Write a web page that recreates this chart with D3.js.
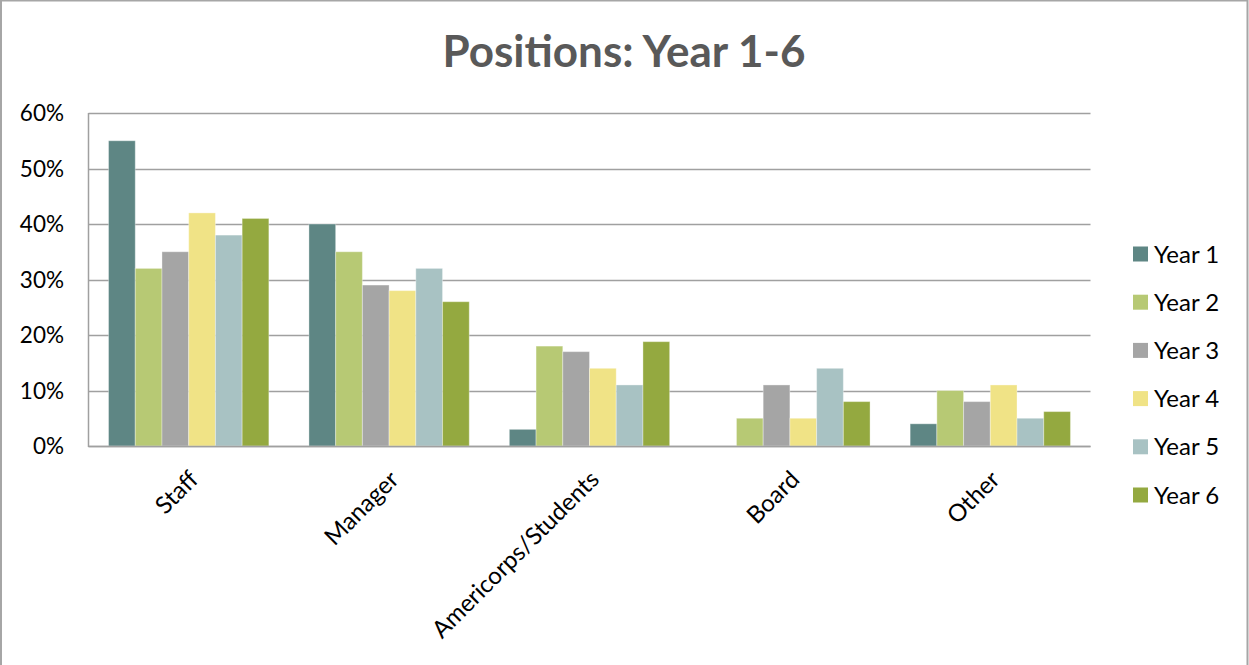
<!DOCTYPE html>
<html>
<head>
<meta charset="utf-8">
<script src="https://cdn.jsdelivr.net/npm/d3@7"></script>
<style>
  html, body { margin: 0; padding: 0; background: #fff; }
  svg { display: block; }
  text { font-family: Lato, "Open Sans", "Noto Sans", sans-serif; }
</style>
</head>
<body>
<svg id="chart" width="1249" height="665"></svg>
<script>
// Category labels along the x axis
const categories = ["Staff", "Manager", "Americorps/Students", "Board", "Other"];
// One series per year, share of respondents in each position (%)
const seriesNames = ["Year 1", "Year 2", "Year 3", "Year 4", "Year 5", "Year 6"];
const year1 = [55, 40, 3, 0, 4];
const year2 = [32, 35, 18, 5, 10];
const year3 = [35, 29, 17, 11, 8];
const year4 = [42, 28, 14, 5, 11];
const year5 = [38, 32, 11, 14, 5];
const year6 = [41, 26, 18.8, 8, 6.2];
const seriesValues = [year1, year2, year3, year4, year5, year6];
const seriesColors = ["#5e8684", "#b7c974", "#a5a5a5", "#f0e386", "#a8c2c3", "#94a940"];
const yTicks = [0, 10, 20, 30, 40, 50, 60];
const title = "Positions: Year 1-6";

const svg = d3.select("#chart");
const W = 1249, H = 665;

// Outer frame (left, top, right edges)
svg.append("path")
  .attr("d", `M1,${H} V0.5 H1247.5 V${H}`)
  .attr("fill", "none")
  .attr("stroke", "#a6a6a6")
  .attr("stroke-width", 2);

const plot = { left: 88.5, right: 1090.5, top: 113, bottom: 446 };

const x0 = d3.scaleBand()
  .domain(categories)
  .range([plot.left, plot.right])
  .paddingInner(0.2)
  .paddingOuter(0.1);

const x1 = d3.scaleBand()
  .domain(seriesNames)
  .range([0, x0.bandwidth()]);

const y = d3.scaleLinear().domain([0, 60]).range([plot.bottom, plot.top]);

// Horizontal gridlines
svg.append("g")
  .selectAll("line")
  .data(yTicks)
  .join("line")
  .attr("x1", plot.left)
  .attr("x2", plot.right)
  .attr("y1", d => Math.round(y(d)) + 0.5)
  .attr("y2", d => Math.round(y(d)) + 0.5)
  .attr("stroke", "#a0a0a0")
  .attr("stroke-width", 1.5);

// Left axis line
svg.append("line")
  .attr("x1", plot.left).attr("x2", plot.left)
  .attr("y1", plot.top).attr("y2", plot.bottom + 1)
  .attr("stroke", "#a0a0a0")
  .attr("stroke-width", 1.5);

// Y tick labels
svg.append("g")
  .selectAll("text")
  .data(yTicks)
  .join("text")
  .attr("x", 64)
  .attr("y", d => y(d))
  .attr("dy", "0.36em")
  .attr("text-anchor", "end")
  .attr("font-size", 22.5)
  .attr("fill", "#000")
  .text(d => d + "%");

// Bars
const groups = svg.append("g")
  .selectAll("g")
  .data(categories)
  .join("g")
  .attr("transform", c => `translate(${x0(c)},0)`);

groups.selectAll("rect")
  .data((c, ci) => seriesNames.map((s, si) => ({ s, si, v: seriesValues[si][ci] })))
  .join("rect")
  .attr("x", d => x1(d.s))
  .attr("width", x1.bandwidth())
  .attr("y", d => y(d.v))
  .attr("height", d => y(0) - y(d.v))
  .attr("fill", d => seriesColors[d.si])
  .attr("stroke", "rgba(255,255,255,0.35)")
  .attr("stroke-width", 1);

// Bottom axis line drawn over bars
svg.append("line")
  .attr("x1", plot.left).attr("x2", plot.right)
  .attr("y1", plot.bottom + 0.5).attr("y2", plot.bottom + 0.5)
  .attr("stroke", "#a0a0a0")
  .attr("stroke-width", 1.5);

// Rotated category labels
svg.append("g")
  .selectAll("text")
  .data(categories)
  .join("text")
  .attr("transform", c => `translate(${x0(c) + x0.bandwidth() / 2 + 11},${481}) rotate(-45)`)
  .attr("text-anchor", "end")
  .attr("font-size", 24)
  .attr("fill", "#000")
  .text(c => c);

// Title
svg.append("text")
  .attr("x", 624)
  .attr("y", 67)
  .attr("text-anchor", "middle")
  .attr("font-size", 44)
  .attr("font-weight", "bold")
  .attr("fill", "#595959")
  .text(title);

// Legend
const legend = svg.append("g")
  .selectAll("g")
  .data(seriesNames)
  .join("g")
  .attr("transform", (s, i) => `translate(1133,${254 + i * 48.2})`);

legend.append("rect")
  .attr("x", 0).attr("y", -7.5)
  .attr("width", 15).attr("height", 15)
  .attr("fill", (s, i) => seriesColors[i]);

legend.append("text")
  .attr("x", 21)
  .attr("y", 0)
  .attr("dy", "0.36em")
  .attr("font-size", 24)
  .attr("fill", "#000")
  .text(s => s);
</script>
</body>
</html>
